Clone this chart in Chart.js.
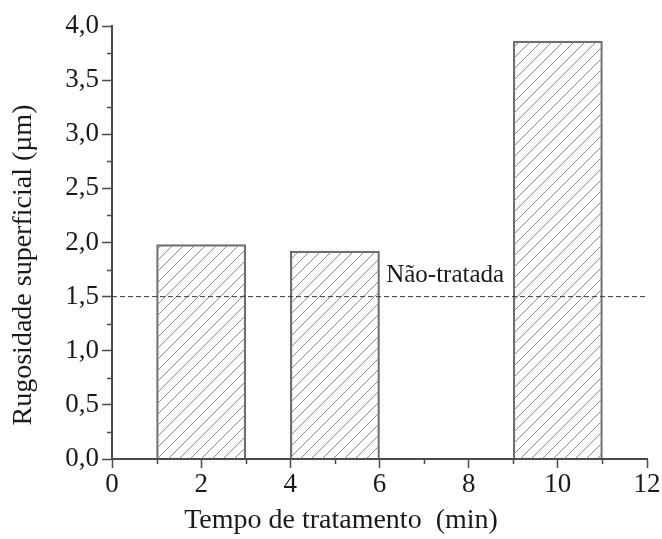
<!DOCTYPE html>
<html>
<head>
<meta charset="utf-8">
<script src="https://cdn.jsdelivr.net/npm/chart.js@4/dist/chart.umd.min.js"></script>
<style>
  html, body { margin: 0; padding: 0; background: #ffffff; }
  canvas { display: block; }
</style>
</head>
<body>
<canvas id="chart" width="662" height="539"></canvas>
<script>
// Treatment time (min) and resulting surface roughness (µm)
const treatmentTimes = [2, 5, 10];
const roughness = [1.98, 1.92, 3.86];

// Untreated reference level
const untreatedRoughness = 1.5;
const untreatedSpan = [0, 12];
const untreatedLabel = 'Não-tratada';

// Axis tick labels
const xTickValues = [0, 2, 4, 6, 8, 10, 12];
const xTickLabels = ['0', '2', '4', '6', '8', '10', '12'];
const yTickValues = [0, 0.5, 1, 1.5, 2, 2.5, 3, 3.5, 4];
const yTickLabels = ['0,0', '0,5', '1,0', '1,5', '2,0', '2,5', '3,0', '3,5', '4,0'];
const xMinorTicks = [1, 3, 5, 7, 9, 11];
const yMinorTicks = [0.25, 0.75, 1.25, 1.75, 2.25, 2.75, 3.25, 3.75];

const xTitle = 'Tempo de tratamento  (min)';
const yTitle = 'Rugosidade superficial (µm)';

const FONT = '"Liberation Serif", "Times New Roman", serif';
const TEXT = '#1a1a1a';
const AXIS = '#4a4a4a';

// Diagonal "/" hatching for the bars
function makeHatch() {
  const s = 11;
  const c = document.createElement('canvas');
  c.width = s; c.height = s;
  const g = c.getContext('2d');
  g.strokeStyle = '#8c8c8c';
  g.lineWidth = 1;
  g.beginPath();
  g.moveTo(-1, s + 1); g.lineTo(s + 1, -1);
  g.moveTo(-1, 1); g.lineTo(1, -1);
  g.moveTo(s - 1, s + 1); g.lineTo(s + 1, s - 1);
  g.stroke();
  return g.createPattern(c, 'repeat');
}

// Minor tick marks, the reference label and the axis titles
const decorations = {
  id: 'decorations',
  afterDraw(chart) {
    const { ctx, scales: { x, y }, chartArea } = chart;
    ctx.save();
    ctx.strokeStyle = AXIS;
    ctx.lineWidth = 1.5;
    ctx.beginPath();
    xMinorTicks.forEach(v => {
      const px = Math.round(x.getPixelForValue(v)) + 0.5;
      ctx.moveTo(px, chartArea.bottom);
      ctx.lineTo(px, chartArea.bottom + 5);
    });
    yMinorTicks.forEach(v => {
      const py = Math.round(y.getPixelForValue(v)) + 0.5;
      ctx.moveTo(chartArea.left, py);
      ctx.lineTo(chartArea.left - 5, py);
    });
    ctx.stroke();

    ctx.fillStyle = TEXT;
    ctx.font = '25px ' + FONT;
    ctx.textAlign = 'left';
    ctx.textBaseline = 'alphabetic';
    ctx.fillText(untreatedLabel, x.getPixelForValue(6.15), y.getPixelForValue(untreatedRoughness) - 15);

    ctx.font = '28px ' + FONT;
    ctx.textAlign = 'center';
    ctx.textBaseline = 'middle';
    ctx.fillText(xTitle, 341, 521);

    ctx.translate(24, 265);
    ctx.rotate(-Math.PI / 2);
    ctx.fillText(yTitle, 0, 0);
    ctx.restore();
  }
};

const ctx = document.getElementById('chart').getContext('2d');
new Chart(ctx, {
  data: {
    datasets: [
      {
        type: 'bar',
        data: treatmentTimes.map((t, i) => ({ x: t, y: roughness[i] })),
        backgroundColor: makeHatch(),
        borderColor: '#6e6e6e',
        borderWidth: 1.5,
        barPercentage: 1,
        categoryPercentage: 1,
        order: 2
      },
      {
        type: 'line',
        data: untreatedSpan.map(t => ({ x: t, y: untreatedRoughness })),
        borderColor: '#3a3a3a',
        borderWidth: 1,
        borderDash: [5, 3],
        pointRadius: 0,
        fill: false,
        order: 1
      }
    ]
  },
  options: {
    responsive: false,
    animation: false,
    layout: { padding: { top: 26, right: 15, left: 0, bottom: 0 } },
    plugins: { legend: { display: false }, tooltip: { enabled: false } },
    scales: {
      x: {
        type: 'linear',
        min: 0,
        max: 12,
        offset: false,
        afterBuildTicks: s => { s.ticks = xTickValues.map(v => ({ value: v })); },
        afterFit: s => { s.height = 80; },
        ticks: {
          callback: (v, i) => xTickLabels[i],
          font: { family: FONT, size: 27 },
          color: TEXT,
          padding: 1,
          maxRotation: 0
        },
        grid: { display: true, drawOnChartArea: false, drawTicks: true, tickLength: 9, tickColor: AXIS, tickWidth: 1.5, offset: false },
        border: { display: true, color: AXIS, width: 2 }
      },
      y: {
        min: 0,
        max: 4,
        afterBuildTicks: s => { s.ticks = yTickValues.map(v => ({ value: v })); },
        afterFit: s => { s.width = 112; },
        ticks: {
          callback: (v, i) => yTickLabels[i],
          font: { family: FONT, size: 27 },
          color: TEXT,
          padding: 3
        },
        grid: { display: true, drawOnChartArea: false, drawTicks: true, tickLength: 10, tickColor: AXIS, tickWidth: 1.5 },
        border: { display: true, color: AXIS, width: 2 }
      }
    }
  },
  plugins: [decorations]
});
</script>
</body>
</html>
